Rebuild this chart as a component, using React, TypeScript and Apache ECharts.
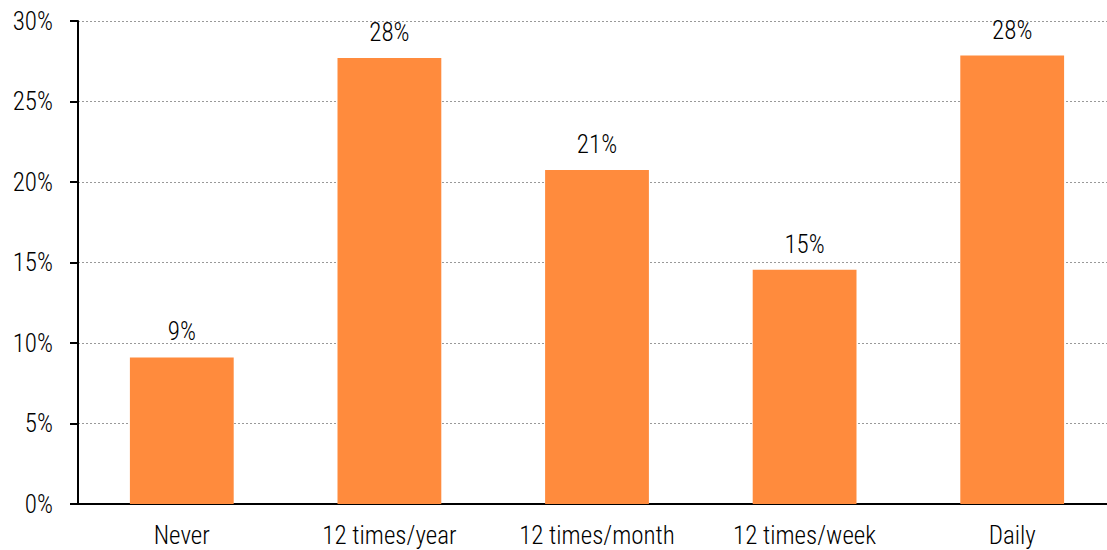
import React, { useEffect, useRef } from "react";
import * as echarts from "echarts";

// Frequency categories and their shares (percent)
const categories = ["Never", "12 times/year", "12 times/month", "12 times/week", "Daily"];
const shares = [9.1, 27.7, 20.75, 14.55, 27.85];
const yTicks = [0, 5, 10, 15, 20, 25, 30];

const FONT = "'Roboto Condensed', 'Arial Narrow', sans-serif";

export default function App() {
  const ref = useRef<HTMLDivElement>(null);

  useEffect(() => {
    if (!ref.current) return;
    const chart = echarts.init(ref.current, undefined, { renderer: "svg" });
    chart.setOption({
      animation: false,
      backgroundColor: "#ffffff",
      grid: { left: 78, right: 0, top: 21, bottom: 46, containLabel: false },
      xAxis: {
        type: "category",
        data: categories,
        axisLine: { lineStyle: { color: "#000", width: 2 } },
        axisTick: { show: false },
        axisLabel: { color: "#000", fontFamily: FONT, fontWeight: 300, fontSize: 25, margin: 19 },
      },
      yAxis: {
        type: "value",
        min: yTicks[0],
        max: yTicks[yTicks.length - 1],
        interval: 5,
        axisLine: { show: true, lineStyle: { color: "#000", width: 2 } },
        axisTick: { show: true, length: 8, lineStyle: { color: "#000", width: 2 } },
        axisLabel: {
          color: "#000",
          fontFamily: FONT,
          fontWeight: 300,
          fontSize: 25,
          margin: 25,
          formatter: (v: number) => `${v}%`,
        },
        splitLine: { lineStyle: { color: "#999", type: [2, 2], width: 1 } },
      },
      series: [
        {
          type: "bar",
          data: shares,
          barWidth: "50%",
          itemStyle: { color: "#FF8B3D" },
          label: {
            show: true,
            position: "top",
            distance: 13,
            color: "#000",
            fontFamily: FONT,
            fontWeight: 300,
            fontSize: 25,
            formatter: (p: any) => `${Math.round(p.value)}%`,
          },
        },
      ],
    });
    return () => chart.dispose();
  }, []);

  // The plot runs slightly past the right edge of the window; overflow is clipped.
  return (
    <div style={{ position: "fixed", left: 0, top: 0, width: 1107, height: 550, overflow: "hidden", background: "#fff" }}>
      <div ref={ref} style={{ width: 1116, height: 550 }} />
    </div>
  );
}
